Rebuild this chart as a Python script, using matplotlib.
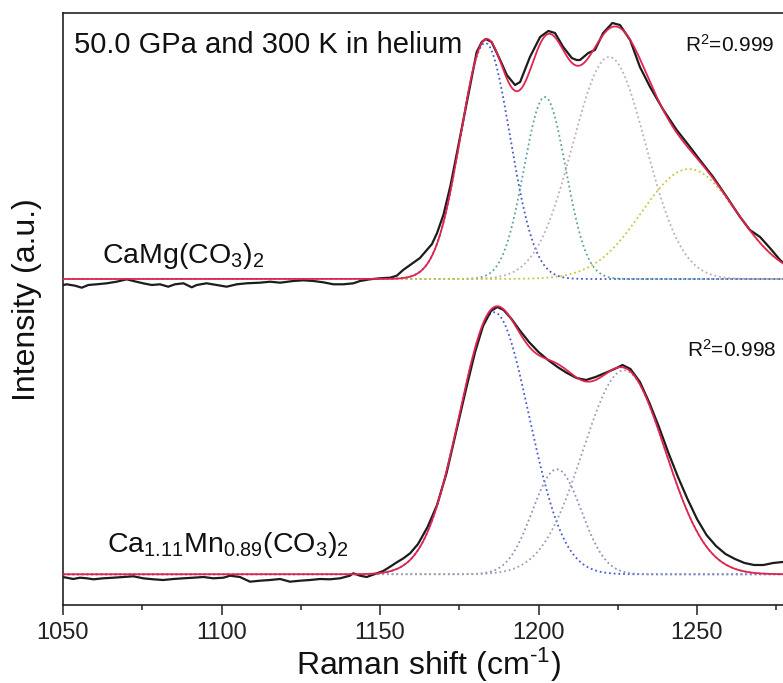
import numpy as np
import matplotlib
matplotlib.use('Agg')
import matplotlib.pyplot as plt
from matplotlib.ticker import MultipleLocator

plt.rcParams['font.family'] = ['Liberation Sans', 'DejaVu Sans']
plt.rcParams['mathtext.fontset'] = 'custom'
plt.rcParams['mathtext.rm'] = 'Liberation Sans'
plt.rcParams['mathtext.it'] = 'Liberation Sans:italic'
plt.rcParams['mathtext.default'] = 'regular'

# ---------------- data ----------------
# CaMg(CO3)2 measured spectrum (Raman shift, intensity above its baseline)
dolo_wn = [1049.1, 1051.2, 1053.8, 1055.9, 1058.0, 1060.6, 1063.8, 1066.9, 1070.1, 1072.2,
           1075.3, 1078.0, 1080.6, 1083.2, 1085.3, 1088.0, 1090.6, 1092.2, 1095.3, 1098.5,
           1101.6, 1104.8, 1107.9, 1112.1, 1115.3, 1118.5, 1122.6, 1125.8, 1129.0, 1132.1,
           1135.3, 1138.4, 1141.6, 1143.7, 1146.8, 1150.0, 1153.2, 1155.3, 1157.3, 1159.5,
           1162.6, 1166.4, 1168.0, 1170.0, 1172.2, 1174.2, 1176.3, 1178.4, 1180.5, 1182.1,
           1183.4, 1185.2, 1187.9, 1190.0, 1192.6, 1194.2, 1197.3, 1200.5, 1203.1, 1205.2,
           1207.8, 1210.5, 1212.0, 1213.1, 1215.7, 1217.8, 1220.4, 1223.3, 1225.7, 1228.9,
           1232.0, 1235.2, 1239.4, 1243.6, 1247.8, 1250.9, 1255.1, 1259.4, 1263.6, 1266.7,
           1269.9, 1273.0, 1276.2, 1279.0]
dolo_int = [-7.7, -6.3, -7.7, -9.7, -7.0, -6.3, -5.3, -3.7, -1.3, -3.0,
            -5.3, -7.0, -6.3, -8.7, -6.3, -5.3, -9.3, -7.0, -5.3, -7.0,
            -8.7, -6.3, -5.3, -4.7, -3.7, -4.7, -3.0, -2.3, -3.0, -4.3,
            -6.3, -6.3, -5.3, -3.0, -1.3, -0.3, 0.3, 2.3, 8.0, 13.0,
            20.0, 34.0, 45.0, 63.0, 92.0, 124.0, 158.0, 192.0, 226.0, 236.0,
            239.0, 236.0, 218.0, 203.0, 193.0, 196.0, 221.0, 241.0, 247.0, 245.0,
            231.0, 220.0, 218.0, 218.0, 225.0, 228.0, 245.0, 255.0, 253.0, 238.0,
            211.0, 191.0, 168.0, 148.0, 131.0, 118.0, 101.0, 81.0, 61.0, 48.0,
            41.0, 30.0, 18.0, 10.0]
dolo_offset = 327
dolo_fit_offset = 326
# fitted Gaussian components: centre, height, sigma
dolo_centers = [1183.2, 1202.0, 1222.3, 1247.5]
dolo_heights = [236, 182, 222, 110]
dolo_sigmas = [7.8, 6.6, 11.5, 15.0]
dolo_colors = ['#4a58c8', '#5fa39a', '#c2a8bd', '#c9c63c']

# Ca1.11Mn0.89(CO3)2 measured spectrum
kut_wn = [1049.1, 1051.2, 1053.2, 1055.4, 1057.5, 1059.6, 1062.7, 1065.9, 1069.0, 1072.2,
          1075.3, 1078.5, 1081.6, 1084.8, 1088.0, 1091.1, 1094.3, 1097.4, 1100.6, 1102.7,
          1105.8, 1109.0, 1112.1, 1115.3, 1118.5, 1121.6, 1124.8, 1127.9, 1131.1, 1134.2,
          1137.4, 1140.5, 1141.6, 1143.7, 1145.8, 1149.0, 1151.0, 1153.2, 1155.3, 1157.4,
          1159.5, 1162.0, 1165.0, 1168.0, 1171.0, 1174.0, 1177.0, 1180.0, 1182.5, 1185.0,
          1187.0, 1189.0, 1191.5, 1194.0, 1197.0, 1200.0, 1203.0, 1206.0, 1209.0, 1212.0,
          1215.0, 1218.0, 1221.0, 1224.0, 1226.5, 1229.0, 1232.0, 1235.0, 1238.0, 1241.0,
          1244.0, 1247.0, 1250.0, 1253.0, 1256.0, 1259.0, 1262.0, 1265.0, 1268.0, 1271.0,
          1274.0, 1277.0, 1280.0]
kut_int = [-2.7, -3.7, -5.0, -3.7, -4.3, -5.3, -4.3, -3.7, -3.0, -2.3,
           -4.3, -5.3, -6.0, -5.0, -4.3, -3.7, -3.0, -4.3, -3.7, -1.7,
           -3.0, -7.7, -6.7, -6.0, -5.0, -7.7, -6.7, -6.0, -5.0, -5.3,
           -4.3, -1.7, 0.7, -1.7, -3.0, 0.7, 3.0, 7.3, 11.7, 15.7,
           20.7, 30.0, 47.0, 69.0, 101.0, 142.0, 183.0, 222.0, 248.0, 263.0,
           267.0, 264.0, 255.0, 244.0, 232.0, 222.0, 214.0, 207.0, 201.0, 196.0,
           194.0, 197.0, 201.0, 205.0, 209.0, 205.0, 192.0, 171.0, 147.0, 121.0,
           97.0, 75.0, 55.0, 39.0, 28.0, 20.0, 15.0, 11.0, 9.0, 9.0,
           11.0, 12.0, 11.0]
kut_offset = 31
kut_fit_offset = 30.7
kut_centers = [1186.0, 1205.8, 1227.0]
kut_heights = [262, 105, 204]
kut_sigmas = [11.0, 7.7, 13.0]
kut_colors = ['#4a5ad0', '#8c93bd', '#9aa2b0']

x_ticks = [1050, 1100, 1150, 1200, 1250]

# ---------------- figure ----------------
W, H = 783, 683
fig = plt.figure(figsize=(W / 100, H / 100), dpi=100)
ax_left, ax_bottom, ax_w, ax_h = 63, 78, 792.5, 592
ax = fig.add_axes([ax_left / W, ax_bottom / H, ax_w / W, ax_h / H])
ax.set_xlim(1050, 1300)
ax.set_ylim(0, 592)

grid = np.linspace(1050, 1300, 1501)


def components(centers, heights, sigmas):
    return [h * np.exp(-(grid - c) ** 2 / (2 * s ** 2)) for c, h, s in zip(centers, heights, sigmas)]


dots = (0, (1, 1.6))
for comps, off, cols in [
    (components(dolo_centers, dolo_heights, dolo_sigmas), dolo_fit_offset, dolo_colors),
    (components(kut_centers, kut_heights, kut_sigmas), kut_fit_offset, kut_colors),
]:
    for comp, col in zip(comps, cols):
        ax.plot(grid, off + comp, linestyle=dots, color=col, lw=1.3, zorder=2)

# measured spectra
ax.plot(dolo_wn, np.array(dolo_int) + dolo_offset, color='#1c1c1c', lw=1.6, zorder=3)
ax.plot(kut_wn, np.array(kut_int) + kut_offset, color='#1c1c1c', lw=1.6, zorder=3)

# cumulative fits
dolo_fit = dolo_fit_offset + np.sum(components(dolo_centers, dolo_heights, dolo_sigmas), axis=0)
kut_fit = kut_fit_offset + np.sum(components(kut_centers, kut_heights, kut_sigmas), axis=0)
ax.plot(grid, dolo_fit, color='#e2234f', lw=1.3, zorder=4)
ax.plot(grid, kut_fit, color='#e2234f', lw=1.3, zorder=4)

# axes styling
for s in ax.spines.values():
    s.set_linewidth(1.2)
    s.set_color('#222222')
ax.set_yticks([])
ax.set_xticks(x_ticks)
ax.xaxis.set_minor_locator(MultipleLocator(25))
ax.tick_params(axis='x', which='major', direction='out', length=7, width=1.1,
               labelsize=17, pad=5, colors='#222222')
ax.tick_params(axis='x', which='minor', direction='out', length=3.5, width=1.1, colors='#222222')

# texts
def ax_xy(px, py):
    return ((px - ax_left) / ax_w, (H - ax_bottom - py) / ax_h)

ax.text(*ax_xy(74, 45), '50.0 GPa and 300 K in helium', transform=ax.transAxes,
        fontsize=21, va='center', ha='left', color='#111111')
ax.text(*ax_xy(685, 45), 'R$^2$=0.999', transform=ax.transAxes,
        fontsize=15, va='center', ha='left', color='#111111')
ax.text(*ax_xy(687, 350), 'R$^2$=0.998', transform=ax.transAxes,
        fontsize=15, va='center', ha='left', color='#111111')
ax.text(*ax_xy(102, 263), 'CaMg(CO$_3$)$_2$', transform=ax.transAxes,
        fontsize=20.5, va='baseline', ha='left', color='#111111')
ax.text(*ax_xy(107, 552), 'Ca$_{1.11}$Mn$_{0.89}$(CO$_3$)$_2$', transform=ax.transAxes,
        fontsize=20.5, va='baseline', ha='left', color='#111111')

fig.text(428 / W, (H - 675) / H, r'Raman shift (cm$^{\text{-}1}$)', fontsize=23,
         ha='center', va='baseline', color='#111111')
fig.text(27 / W, (H - 300) / H, 'Intensity (a.u.)', fontsize=23, rotation=90,
         ha='center', va='center', color='#111111')

fig.savefig('out.png', dpi=100)
